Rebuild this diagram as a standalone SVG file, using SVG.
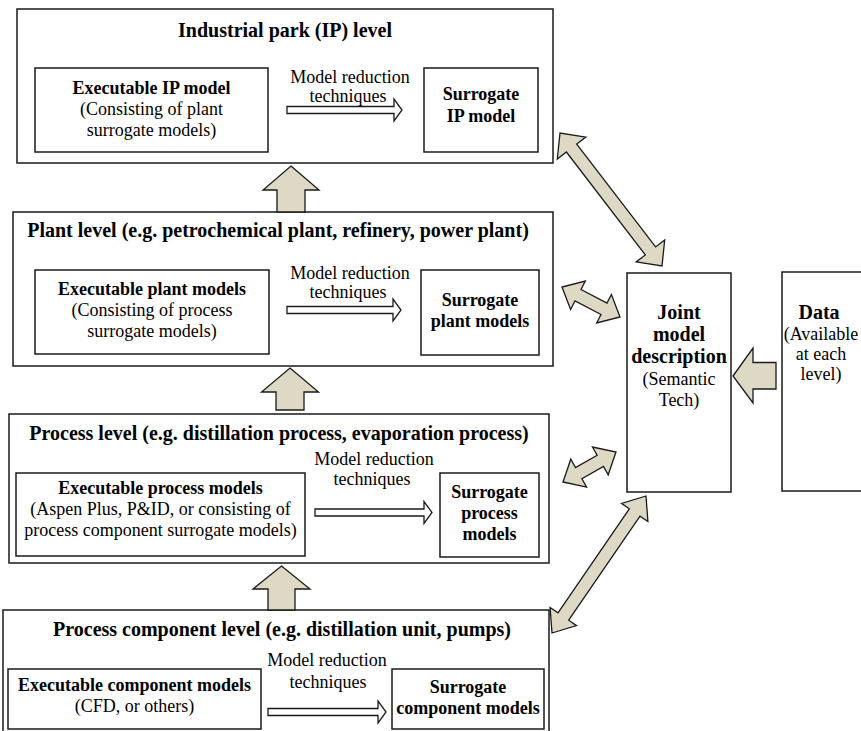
<svg xmlns="http://www.w3.org/2000/svg" width="861" height="731" viewBox="0 0 861 731">
<style>
.box{fill:#fff;stroke:#1a1a1a;stroke-width:1.5}
.t{font-family:"Liberation Serif","Times New Roman",serif;fill:#000;text-anchor:middle}
.h{font-size:20px;font-weight:bold}
.r{font-size:18px}
.bb{font-size:18px;font-weight:bold}
.blk{fill:#ddd9c4;stroke:#1a1a1a;stroke-width:1.3;stroke-linejoin:miter}
.hol{fill:#fff;stroke:#1a1a1a;stroke-width:1.3}
</style>
<rect width="861" height="731" fill="#fff"/>

<g id="ip-level">
<rect class="box" x="17" y="9" width="536" height="154"/>
<text class="t h" x="285" y="37">Industrial park (IP) level</text>
</g>
<g id="ip-exec">
<rect class="box" x="35" y="68" width="233" height="84"/>
<text class="t bb" x="151.5" y="94">Executable IP model</text>
<text class="t r" x="151.5" y="115">(Consisting of plant</text>
<text class="t r" x="151.5" y="136">surrogate models)</text>
</g>
<g id="ip-surr">
<rect class="box" x="424" y="68" width="114" height="84"/>
<text class="t bb" x="481" y="100">Surrogate</text>
<text class="t bb" x="481" y="122">IP model</text>
</g>

<g id="plant-level">
<rect class="box" x="13" y="212" width="540" height="154"/>
<text class="t h" x="278" y="237">Plant level (e.g. petrochemical plant, refinery, power plant)</text>
</g>
<g id="plant-exec">
<rect class="box" x="35" y="270" width="234" height="84"/>
<text class="t bb" x="152" y="295">Executable plant models</text>
<text class="t r" x="152" y="316">(Consisting of process</text>
<text class="t r" x="152" y="337">surrogate models)</text>
</g>
<g id="plant-surr">
<rect class="box" x="421" y="270" width="118" height="85"/>
<text class="t bb" x="480" y="306">Surrogate</text>
<text class="t bb" x="480" y="327">plant models</text>
</g>

<g id="process-level">
<rect class="box" x="9" y="414" width="540" height="149"/>
<text class="t h" x="279" y="440">Process level (e.g. distillation process, evaporation process)</text>
</g>
<g id="process-exec">
<rect class="box" x="16" y="473" width="289" height="83"/>
<text class="t bb" x="160.5" y="494">Executable process models</text>
<text class="t r" x="160.5" y="515">(Aspen Plus, P&amp;ID, or consisting of</text>
<text class="t r" x="160.5" y="536">process component surrogate models)</text>
</g>
<g id="process-surr">
<rect class="box" x="440" y="473" width="99" height="84"/>
<text class="t bb" x="489.5" y="498">Surrogate</text>
<text class="t bb" x="489.5" y="519">process</text>
<text class="t bb" x="489.5" y="540">models</text>
</g>

<g id="component-level">
<rect class="box" x="3" y="610" width="546" height="130"/>
<text class="t h" x="282" y="636">Process component level (e.g. distillation unit, pumps)</text>
</g>
<g id="component-exec">
<rect class="box" x="8" y="669" width="253" height="60"/>
<text class="t bb" x="134.5" y="691">Executable component models</text>
<text class="t r" x="134.5" y="712">(CFD, or others)</text>
</g>
<g id="component-surr">
<rect class="box" x="392" y="669" width="152" height="60"/>
<text class="t bb" x="468" y="693">Surrogate</text>
<text class="t bb" x="468" y="714">component models</text>
</g>

<g id="joint">
<rect class="box" x="627" y="273" width="104" height="219"/>
<text class="t h" x="679" y="319">Joint</text>
<text class="t h" x="679" y="341">model</text>
<text class="t h" x="679" y="363">description</text>
<text class="t r" x="679" y="385">(Semantic</text>
<text class="t r" x="679" y="406">Tech)</text>
</g>
<g id="data">
<rect class="box" x="782" y="272" width="90" height="219"/>
<text class="t h" x="819" y="319">Data</text>
<text class="t r" x="821" y="340">(Available</text>
<text class="t r" x="821" y="360">at each</text>
<text class="t r" x="821" y="380">level)</text>
</g>

<g id="connectors">
<text class="t r" x="350" y="83">Model reduction</text>
<text class="t r" x="348" y="102">techniques</text>
<path class="hol" d="M287,106.5 H394 V99 L402,110 L394,121 V113.5 H287 Z"/>

<text class="t r" x="350" y="279">Model reduction</text>
<text class="t r" x="348" y="298">techniques</text>
<path class="hol" d="M287,306.5 H393 V299 L401,310 L393,321 V313.5 H287 Z"/>

<text class="t r" x="374" y="465">Model reduction</text>
<text class="t r" x="372" y="485">techniques</text>
<path class="hol" d="M315,509 H424 V501.5 L432,512.5 L424,523.5 V516 H315 Z"/>

<text class="t r" x="327" y="666">Model reduction</text>
<text class="t r" x="328" y="688">techniques</text>
<path class="hol" d="M268,708.5 H378 V701 L386,712 L378,723 V715.5 H268 Z"/>

<path class="blk" d="M291,166 L319,190 L305,190 L305,212 L277,212 L277,190 L263,190 Z"/>
<path class="blk" d="M290,368 L318.5,392 L304,392 L304,410 L276,410 L276,392 L261.5,392 Z"/>
<path class="blk" d="M281.5,566 L310,589 L295,589 L295,610 L268,610 L268,589 L253,589 Z"/>

<path class="blk" d="M560,133 L557.3,159 L566.4,152 L645.3,254.9 L636.2,261.9 L662,266 L664.7,240 L655.6,246.9 L576.7,144.1 L585.8,137.1 Z"/>
<path class="blk" d="M562,287 L570.6,309.5 L575,301 L601,314.5 L596.7,323 L620,317 L611.4,294.5 L607,303 L581,289.5 L585.3,281 Z"/>
<path class="blk" d="M563,482 L586.6,487.1 L581.9,478.8 L603.5,466.5 L608.2,474.8 L616,452 L592.5,447 L597.1,455.2 L575.5,467.5 L570.8,459.2 Z"/>
<path class="blk" d="M552,633 L576.5,625.6 L568.7,620.2 L640,516.2 L647.9,521.5 L646,496 L621.5,503.4 L629.3,508.8 L558,612.8 L550.1,607.5 Z"/>

<path class="blk" d="M733,376 L753,348 L753,362.5 L776,362.5 L776,389 L753,389 L753,403 Z"/>
</g>
</svg>
